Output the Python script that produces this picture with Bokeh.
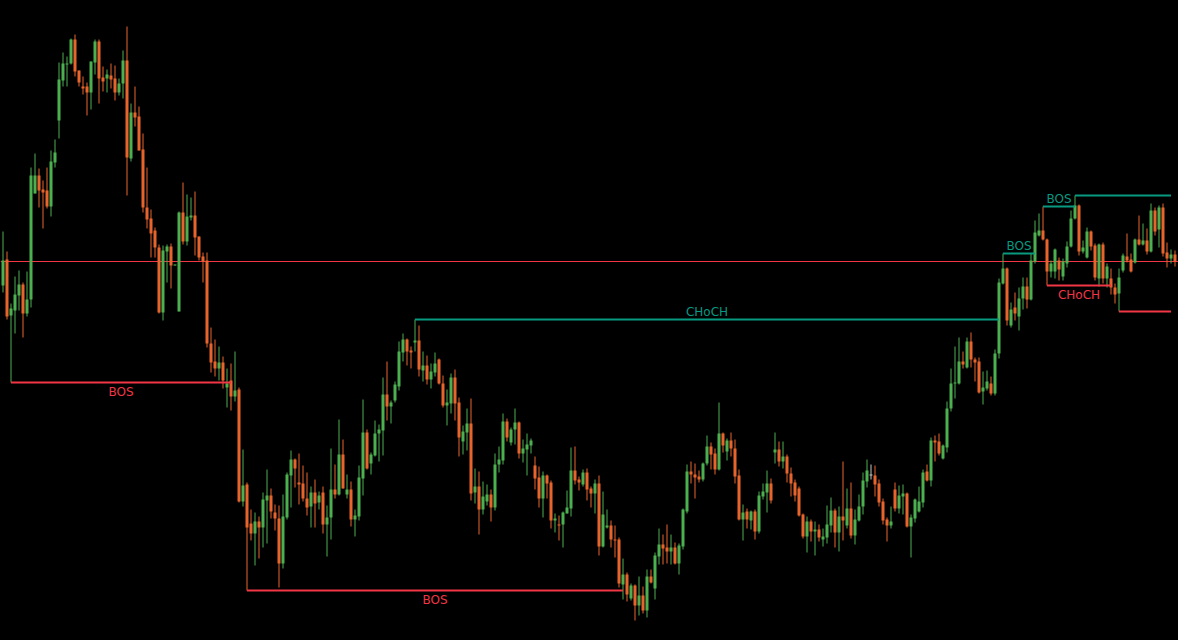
import numpy as np
from bokeh.plotting import figure
from bokeh.models import Range1d, ColumnDataSource
from bokeh.core.properties import value
from bokeh.embed import file_html
from bokeh.resources import INLINE

# ---- OHLC data (one value per candle) ----
opens = [355,381,325,330,345,356,327,341,447,465,
         451,450,434,478,520,560,576,577,601,570,
         554,554,548,578,599,563,562,565,562,548,
         557,580,482,528,524,491,433,422,410,393,
         328,389,394,375,329,428,399,423,425,404,
         384,380,297,279,272,278,253,260,244,251,
         139,156,117,107,119,113,140,145,128,122,
         77,123,165,181,158,157,142,134,148,138,
         148,116,123,151,146,186,146,151,121,124,
         162,208,177,185,207,210,246,234,240,254,
         288,301,290,298,300,270,275,261,268,281,
         257,235,237,263,238,199,208,217,148,154,
         131,139,146,133,176,180,219,198,211,218,
         187,191,195,175,163,142,165,158,120,116,
         116,127,132,170,161,156,168,152,147,157,
         94,113,115,101,101,56,66,42,55,35,
         45,30,64,52,84,96,93,89,93,77,
         94,129,169,166,164,161,177,194,187,171,
         207,189,200,192,165,121,129,120,129,109,
         144,148,157,188,191,179,184,167,158,152,
         126,104,119,109,111,101,103,115,130,108,
         124,115,132,105,120,134,159,165,165,157,
         139,121,115,151,132,144,147,114,122,129,
         138,169,160,200,199,182,193,232,257,257,
         279,273,299,281,279,249,252,257,247,287,
         357,372,315,333,324,342,354,341,379,405,
         410,401,369,369,380,364,377,394,422,435,
         389,383,409,395,362,396,362,362,353,347,
         370,384,381,378,401,396,400,389,430,411,
         433,388,382,386]
highs = [409,389,337,364,370,358,369,473,487,472,
         460,473,490,501,578,588,584,602,606,570,
         564,558,579,601,601,574,571,577,575,562,
         590,614,537,554,534,507,473,431,413,396,
         395,396,397,376,429,458,446,443,449,404,
         388,388,313,301,294,284,272,277,289,253,
         191,158,131,128,124,148,171,152,136,135,
         146,168,190,182,187,175,168,154,161,149,
         154,135,192,176,221,201,166,159,131,175,
         241,211,188,220,216,263,279,240,259,299,
         307,302,294,321,315,289,285,277,288,282,
         265,251,267,271,243,215,232,242,172,169,
         159,156,151,187,194,227,222,213,232,219,
         201,207,202,184,174,169,166,160,127,125,
         129,150,193,194,164,171,172,154,161,165,
         149,131,120,115,103,82,68,57,56,64,
         54,71,71,88,112,106,116,106,98,97,
         132,176,179,177,170,178,205,198,192,238,
         208,202,208,201,171,136,132,130,131,149,
         157,170,162,208,199,199,186,173,161,154,
         127,124,121,119,116,112,135,143,132,134,
         179,152,158,131,146,168,181,176,175,161,
         142,123,134,158,155,156,148,126,142,154,
         171,176,203,205,207,196,239,272,294,303,
         289,303,308,283,283,269,270,264,291,362,
         387,373,338,348,353,363,363,387,420,427,
         434,402,380,392,383,382,399,430,445,436,
         400,413,410,397,397,398,377,372,357,372,
         387,407,387,402,425,417,412,437,433,435,
         437,398,391,390]
lows = [348,321,258,307,330,303,324,333,447,433,
        412,432,424,473,502,554,554,576,564,554,
        546,525,531,566,537,549,548,552,540,545,
        542,445,479,514,490,428,412,383,383,327,
        320,358,352,375,329,396,395,420,385,380,
        358,293,268,264,260,252,233,230,239,138,
        134,50,100,75,82,93,97,122,110,53,
        72,121,133,153,136,139,125,113,113,131,
        107,84,101,142,145,152,142,114,104,120,
        145,171,166,184,179,185,220,217,238,250,
        279,275,272,289,264,259,256,252,264,256,
        233,215,227,220,184,186,190,140,137,106,
        126,135,119,130,168,176,199,195,196,182,
        178,165,187,151,133,123,142,112,108,100,
        93,127,124,156,150,154,140,133,127,85,
        93,112,93,83,53,41,39,40,20,25,
        27,23,57,41,76,76,77,76,76,66,
        91,127,157,142,158,159,175,171,166,170,
        188,180,184,157,120,100,112,111,101,107,
        141,128,137,177,174,172,158,144,139,124,
        102,88,99,85,99,94,97,108,93,89,
        100,112,102,96,119,126,153,161,144,134,
        116,99,112,129,127,126,113,83,118,128,
        133,159,154,179,185,181,188,229,242,256,
        272,272,273,259,247,236,250,245,245,282,
        356,315,313,320,310,331,332,340,377,404,
        400,355,363,362,360,360,373,393,421,385,
        387,382,390,360,354,357,353,346,337,329,
        368,378,368,377,395,395,386,388,405,393,
        384,373,377,374]
closes = [380,324,332,346,356,327,341,465,465,450,
          448,434,479,488,561,577,577,601,569,558,
          552,548,579,599,562,559,566,561,548,557,
          580,483,528,523,490,433,421,407,393,328,
          390,394,375,376,428,399,424,425,403,383,
          379,297,278,272,278,260,257,244,250,139,
          155,113,107,119,113,141,145,129,122,77,
          124,166,181,172,156,142,133,148,137,145,
          116,123,151,146,186,152,151,121,125,163,
          208,172,186,207,211,246,234,238,256,289,
          301,289,288,300,271,275,261,269,277,257,
          235,238,263,237,203,209,217,147,154,131,
          144,146,133,176,181,219,203,211,218,187,
          192,196,200,162,142,165,157,120,122,115,
          128,133,170,160,158,168,151,147,157,94,
          126,115,101,100,57,66,46,55,35,45,
          30,64,58,85,96,92,89,93,77,95,
          131,169,166,163,161,177,194,186,171,207,
          195,200,192,164,121,128,121,129,109,145,
          149,157,140,191,179,184,167,157,145,125,
          104,119,109,111,103,104,116,130,108,124,
          120,132,105,121,134,160,170,165,156,138,
          120,115,119,132,145,147,114,123,141,139,
          168,160,200,198,187,195,232,257,258,279,
          276,299,281,278,248,253,259,247,287,358,
          372,320,331,327,342,354,341,380,408,410,
          401,369,377,391,371,379,394,422,435,389,
          393,409,394,363,396,362,374,353,346,363,
          385,380,369,401,396,400,389,430,409,433,
          387,382,386,379]

# ---- market-structure levels ----
struct_labels = ["BOS", "BOS", "CHoCH", "BOS", "BOS", "", "CHoCH", ""]
struct_prices = [258, 50, 321, 387, 434, 445, 355, 329]
struct_start = [2, 61, 103, 250, 260, 268, 261, 279]
struct_end = [57, 155, 249, 258, 268, 292, 277, 292]
struct_dir = ["bear", "bear", "bull", "bull", "bull", "bull", "bear", "bear"]

last_price = closes[-1]

UP = "#4CAF50"
DOWN = "#E8642C"
FLAT = "#C8C8C8"
BULL = "#089981"
BEAR = "#F23645"
PRICE_LINE = "#F23645"
BG = "#000000"

n = len(closes)
idx = np.arange(n)
o = np.array(opens, dtype=float)
c = np.array(closes, dtype=float)
h = np.array(highs, dtype=float)
l = np.array(lows, dtype=float)
bottom = np.minimum(o, c)
top = np.maximum(np.maximum(o, c), bottom + 1.0)
colors = [UP if cc > oo else (DOWN if cc < oo else FLAT) for oo, cc in zip(opens, closes)]

src = ColumnDataSource(dict(x=idx, o=o, c=c, h=h, l=l, top=top, bottom=bottom, color=colors))

W, H = 1178, 640
x0, x1 = -0.625, 293.875
p = figure(width=W, height=H, output_backend="svg", toolbar_location=None,
           x_range=Range1d(x0, x1), y_range=Range1d(0, 640),
           min_border=0, min_border_left=0, min_border_right=0,
           min_border_top=0, min_border_bottom=0)
p.background_fill_color = BG
p.border_fill_color = BG
p.outline_line_color = None
p.xaxis.visible = False
p.yaxis.visible = False
p.xgrid.visible = False
p.ygrid.visible = False

# current price line
p.line(x=[x0, x1], y=[last_price, last_price], line_color=PRICE_LINE, line_width=1)

# wicks and bodies
p.segment(x0="x", y0="l", x1="x", y1="h", line_color="color", line_width=1, source=src)
p.vbar(x="x", top="top", bottom="bottom", width=0.75, fill_color="color",
       line_color=None, source=src)

# structure lines and labels
for lab, pr, s, e, d in zip(struct_labels, struct_prices, struct_start, struct_end, struct_dir):
    col = BULL if d == "bull" else BEAR
    p.line(x=[s, e], y=[pr, pr], line_color=col, line_width=2)
    if lab:
        mid = (s + e) / 2.0
        if d == "bull":
            p.text(x=[mid], y=[pr], text=[lab], text_color=col, text_align="center",
                   text_baseline="bottom", y_offset=-1, text_font=value("DejaVu Sans"),
                   text_font_size="12px")
        else:
            p.text(x=[mid], y=[pr], text=[lab], text_color=col, text_align="center",
                   text_baseline="top", y_offset=2, text_font=value("DejaVu Sans"),
                   text_font_size="12px")

tmpl = "{% block preamble %}<style>html, body { background-color: #000000; }</style>{% endblock %}"
open("out.html", "w").write(file_html(p, INLINE, template=tmpl))
